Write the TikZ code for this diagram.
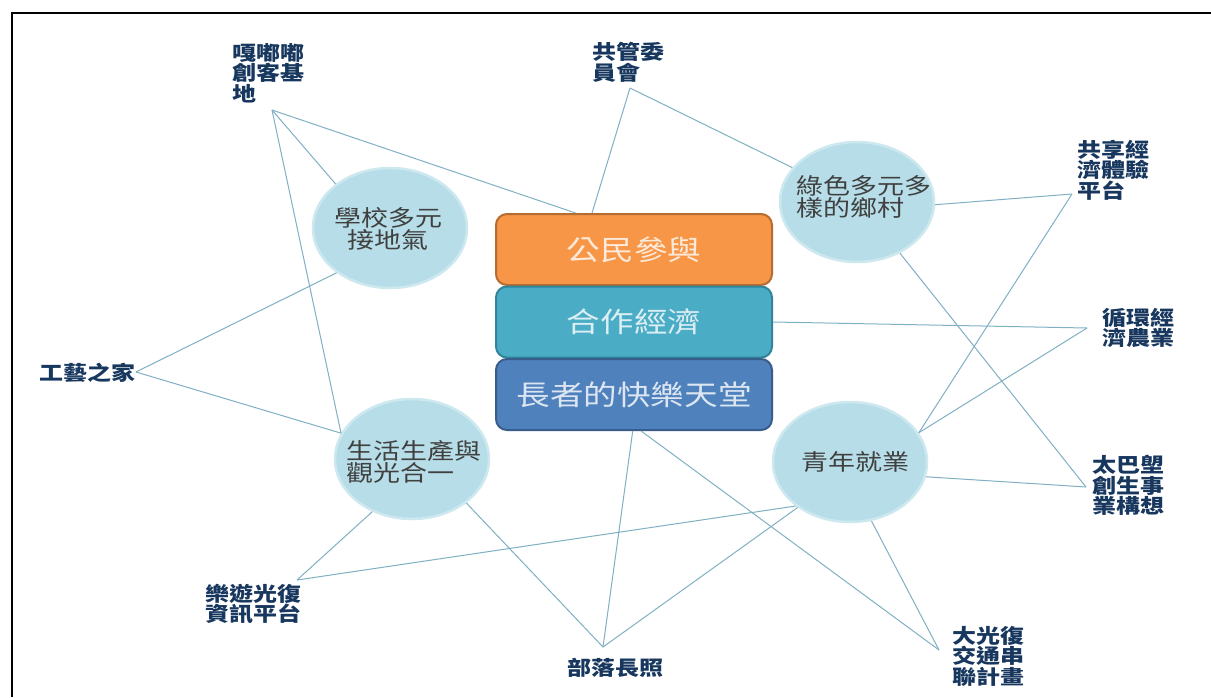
\documentclass[tikz,border=0pt]{standalone}
\usepackage{fontspec}
\newfontfamily\cjk[FakeStretch=1.2]{Noto Sans CJK TC}
\usetikzlibrary{shapes.geometric}
\definecolor{linec}{RGB}{128,176,196}
\definecolor{bubfill}{RGB}{183,222,232}
\definecolor{bubedge}{RGB}{206,232,240}
\definecolor{bubtext}{RGB}{64,64,64}
\definecolor{labc}{RGB}{23,55,94}
\definecolor{orfill}{RGB}{247,150,70}
\definecolor{oredge}{RGB}{182,108,48}
\definecolor{ortext}{RGB}{253,233,217}
\definecolor{tlfill}{RGB}{75,172,198}
\definecolor{tledge}{RGB}{49,133,155}
\definecolor{tltext}{RGB}{218,238,243}
\definecolor{blfill}{RGB}{79,129,189}
\definecolor{bledge}{RGB}{56,93,138}
\definecolor{bltext}{RGB}{220,230,242}
\begin{document}
\begin{tikzpicture}[x=1pt,y=-1pt,
  conn/.style={draw=linec,line width=1pt},
  bubble/.style={ellipse,fill=bubfill,draw=bubedge,line width=2.5pt,minimum width=154pt,minimum height=120pt,inner sep=0pt},
  btxt/.style={inner sep=0pt,text=bubtext,font=\cjk\fontsize{22.5}{22}\selectfont},
  lab/.style={anchor=north west,inner sep=0pt,align=left,text=labc,font=\cjk\bfseries\fontsize{20}{20.5}\selectfont},
  box/.style={rectangle,rounded corners=11pt,minimum width=276pt,minimum height=71pt,line width=2pt,inner sep=0pt,font=\cjk\fontsize{28}{30}\selectfont}
]
\useasboundingbox[fill=white] (0,0) rectangle (1211,697);
% frame
\draw[line width=2pt] (12,697) -- (12,13) -- (1211,13);

% central boxes
\node[box,fill=orfill,draw=oredge,text=ortext] (ob) at (634,249.5) {公民參與};
\node[box,fill=tlfill,draw=tledge,text=tltext] (tb) at (634,322) {合作經濟};
\node[box,fill=blfill,draw=bledge,text=bltext] (bb) at (634,394.5) {長者的快樂天堂};

% bubbles
\node[bubble] (A) at (390,228) {};
\node[bubble] (B) at (857,202) {};
\node[bubble] (C) at (412,459) {};
\node[bubble] (D) at (850,462) {};
\node[btxt,align=center] (At) at (388,229) {學校多元\\接地氣};
\node[btxt,align=left,anchor=west] (Bt) at (796,197) {綠色多元多\\樣的鄉村};
\node[btxt,align=left,anchor=west] (Ct) at (346,462) {生活生產與\\觀光合一};
\node[btxt] (Dt) at (855,462) {青年就業};

% labels
\node[lab] (gd) at (232,43) {嘎嘟嘟\\創客基\\地};
\node[lab] (gm) at (592,42) {共管委\\員會};
\node[lab] (sx) at (1077,140) {共享經\\濟體驗\\平台};
\node[lab] (xh) at (1102,308) {循環經\\濟農業};
\node[lab] (tbl) at (1092,455) {太巴塱\\創生事\\業構想};
\node[lab] (gy) at (39,363) {工藝之家};
\node[lab] (ly) at (205,584) {樂遊光復\\資訊平台};
\node[lab] (bl) at (567,658) {部落長照};
\node[lab] (dg) at (952,626) {大光復\\交通串\\聯計畫};

% attachment points
\coordinate (gdP) at (272,110);
\coordinate (gmP) at (630,88);
\coordinate (sxP) at (1072,194);
\coordinate (xhP) at (1087,328);
\coordinate (tbP) at (1086,487);
\coordinate (gyP) at (136,372);
\coordinate (lyP) at (297,580);
\coordinate (blP) at (603,647);
\coordinate (dgP) at (939,650);

% connectors
\draw[conn] (gdP) -- (A.141.7);
\draw[conn] (gdP) -- (C.160.7);
\draw[conn] (gdP) -- (ob.148);
\draw[conn] (gmP) -- (ob.139);
\draw[conn] (gmP) -- (B.152);
\draw[conn] (B.358) -- (sxP);
\draw[conn] (D.23.8) -- (sxP);
\draw[conn] (tb.east) -- (xhP);
\draw[conn] (D.23.8) -- (xhP);
\draw[conn] (B.310) -- (tbP);
\draw[conn] (D.349) -- (tbP);
\draw[conn] (gyP) -- (A.220.5);
\draw[conn] (gyP) -- (C.160.7);
\draw[conn] (C.233.6) -- (lyP);
\draw[conn] (D.219) -- (lyP);
\draw[conn] (bb.268) -- (blP);
\draw[conn] (C.321) -- (blP);
\draw[conn] (D.221) -- (blP);
\draw[conn] (bb.281) -- (dgP);
\draw[conn] (D.290.7) -- (dgP);
\end{tikzpicture}
\end{document}
